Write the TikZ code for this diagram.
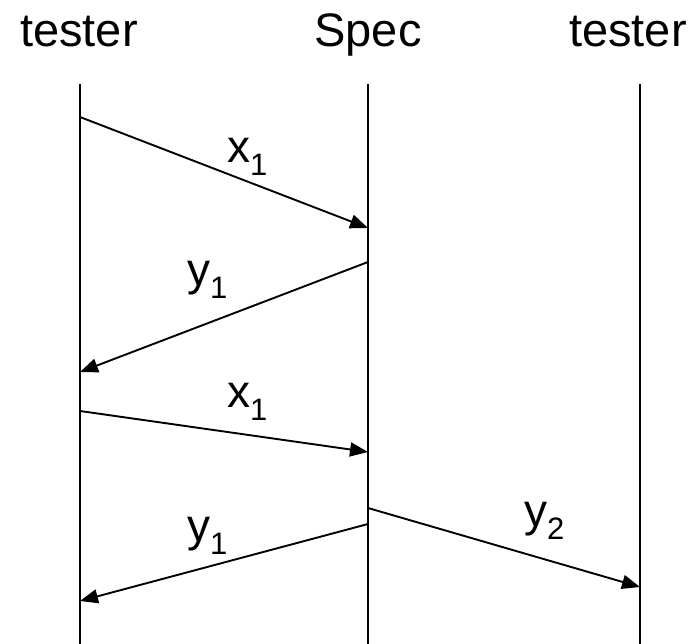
\documentclass[tikz,border=0pt]{standalone}
\usepackage{fontspec}
\setmainfont{Liberation Sans}
\usetikzlibrary{arrows.meta}
\newcommand{\msgsub}[2]{#1\raisebox{-13pt}{\fontsize{31}{31}\selectfont #2}}

\begin{document}
\begin{tikzpicture}[x=1pt,y=-1pt,>={Triangle[length=18pt,width=14pt]},
    lifeline/.style={line width=2pt},
    msgline/.style={line width=1.9pt,->},
    msglab/.style={anchor=base west,inner sep=0pt,font=\fontsize{46}{46}\selectfont},
    actor/.style={anchor=base,inner sep=0pt,font=\fontsize{47}{47}\selectfont}]
  \useasboundingbox (0,0) rectangle (696,644);
  % participants
  \node[actor] (testerL) at (79,47) {tester};
  \node[actor] (spec) at (368,47) {Spec};
  \node[actor] (testerR) at (628,47) {tester};
  \foreach \x/\n in {80/a,368/b,640/c}{
    \coordinate (top\n) at (\x,84);
    \coordinate (bot\n) at (\x,644);
    \draw[lifeline] (top\n)--(bot\n);
  }
  % message end points
  \coordinate (a1) at (80,117);  \coordinate (b1) at (368,228);
  \coordinate (b2) at (368,262); \coordinate (a2) at (80,372);
  \coordinate (a3) at (80,411);  \coordinate (b3) at (368,452);
  \coordinate (b4) at (368,524); \coordinate (a4) at (80,601);
  \coordinate (b5) at (368,508); \coordinate (c5) at (640,587);
  \draw[msgline] (a1)--(b1);
  \draw[msgline] (b2)--(a2);
  \draw[msgline] (a3)--(b3);
  \draw[msgline] (b4)--(a4);
  \draw[msgline] (b5)--(c5);
  % labels
  \node[msglab] (lab1) at (227,163) {\msgsub{x}{1}};
  \node[msglab] (lab2) at (187,286) {\msgsub{y}{1}};
  \node[msglab] (lab3) at (227,407) {\msgsub{x}{1}};
  \node[msglab] (lab4) at (187,541) {\msgsub{y}{1}};
  \node[msglab] (lab5) at (524,526) {\msgsub{y}{2}};
\end{tikzpicture}
\end{document}
